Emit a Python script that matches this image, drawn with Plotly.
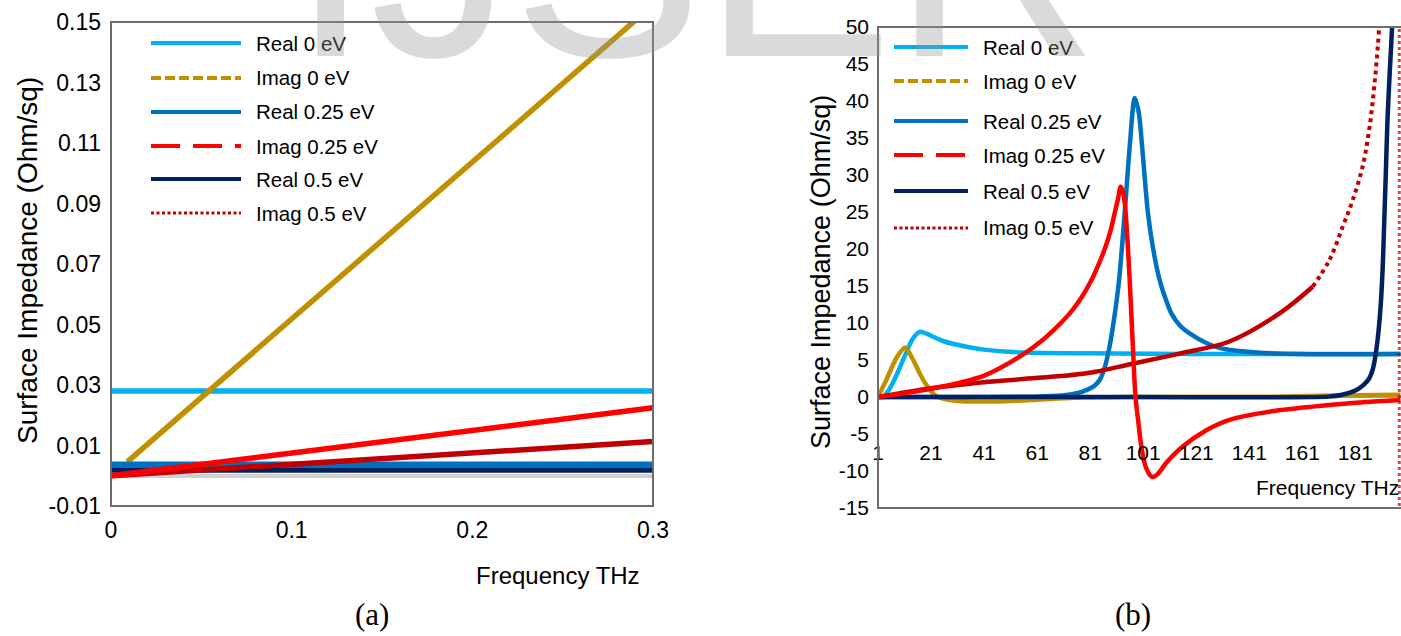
import plotly.graph_objects as go

# ---------------- data ----------------
series_names = ["Real 0 eV", "Imag 0 eV", "Real 0.25 eV", "Imag 0.25 eV", "Real 0.5 eV", "Imag 0.5 eV"]
series_colors = ["#00B0F0", "#BF9000", "#0070C0", "#FF0000", "#002060", "#C00000"]
legend_dash = ["solid", "10px,4px", "solid", "29px,13px", "solid", "3px,2.5px"]
draw_order = [0, 1, 2, 4, 5, 3]

# panel (a): 0 - 0.3 THz
freq_a = [0.0, 0.3]
real0_a = [0.028, 0.028]
imag0_a_x = [0.009, 0.3]
imag0_a = [0.0046, 0.1556]
real025_a = [0.0038, 0.0038]
imag025_a = [0.0, 0.0225]
real05_a = [0.0019, 0.0019]
imag05_a = [0.0, 0.0113]

# panel (b): 1 - 200 THz
real0_b_x = [1, 3, 6, 9, 11.5, 14, 16.6, 19, 22, 26, 33, 41, 56, 80, 120, 198]
real0_b = [0, 0, 1.5, 3.8, 5.9, 7.8, 8.8, 8.6, 8.1, 7.5, 6.9, 6.4, 6.0, 5.9, 5.8, 5.8]

imag0_b_x = [1, 4, 8, 11.2, 14, 17, 19.3, 23, 30, 45, 60, 75, 100, 150, 180, 198]
imag0_b = [0, 2.2, 5.3, 6.7, 5.2, 3.0, 1.6, 0.1, -0.5, -0.6, -0.4, -0.1, 0, 0.05, 0.25, 0.3]

real025_b_x = [1, 40, 60, 70, 76, 80, 82.5, 84.6, 86.5, 88.3, 90.2, 91.9, 94, 95.9, 97.8, 99.3,
               100.6, 102.8, 105, 107.2, 109.5, 111.6, 115, 118.5, 124.8, 130, 144, 160, 198]
real025_b = [0, 0, 0.05, 0.2, 0.5, 1.0, 1.5, 2.3, 4.0, 6.8, 11, 15.8, 24.8, 33.8, 40.4, 38.5,
             33.8, 24.8, 19.5, 15.8, 13.2, 11.3, 9.6, 8.6, 7.3, 6.6, 6.0, 5.8, 5.8]

imag025_b_x = [1, 21, 41, 55, 63.1, 68, 73.3, 77.5, 81.5, 84.5, 86.8, 88.7, 90.2, 91.5, 92.5,
               93.5, 94.4, 95.9, 97.1, 98.1, 99.2, 100.3, 102, 104.4, 106.5, 109.7, 115.9,
               124.8, 133.5, 150, 164.9, 180, 198]
imag025_b = [0, 1.1, 2.9, 5.6, 7.7, 9.3, 11.3, 13.3, 15.8, 18.2, 20.3, 22.5, 24.8, 26.8, 28.4,
             27.5, 24.8, 15.8, 6.8, 0, -3.5, -6.7, -9.5, -10.8, -10.4, -8.9, -6.7,
             -4.5, -3.1, -1.9, -1.3, -0.8, -0.4]

real05_b_x = [1, 100, 171, 176, 181.2, 184, 186.2, 187.6, 188.7, 189.7, 190.6, 191.3, 191.9,
              192.5, 193.1, 193.9, 194.8, 195.5]
real05_b = [0, 0, 0.05, 0.3, 0.9, 1.6, 2.5, 3.8, 5.9, 8.8, 12.7, 17.5, 23.9, 30.5, 37.4, 43.5,
            49.8, 60]

imag05_b_x = [1, 21, 41, 54.5, 79.6, 97, 115, 133.5, 152.4, 164.9, 171.2, 176.2, 180, 183.7,
              186.2, 188.1, 189.8, 191.5, 193.5, 196, 197.5, 197.6]
imag05_b = [0, 1.2, 2.0, 2.4, 3.2, 4.5, 5.9, 7.5, 11.3, 14.9, 18.5, 23.0, 26.6, 31.1, 36.1,
            41.9, 49.1, 60, 90, 200, 400, -400]
imag05_b_split = 9   # from here on the sampled curve looks dotted
imag05_b_pole = 20   # the jump across the pole near the right edge

xticks_a = [0, 0.1, 0.2, 0.3]
xlabels_a = ["0", "0.1", "0.2", "0.3"]
yticks_a = [-0.01, 0.01, 0.03, 0.05, 0.07, 0.09, 0.11, 0.13, 0.15]
ylabels_a = ["-0.01", "0.01", "0.03", "0.05", "0.07", "0.09", "0.11", "0.13", "0.15"]
xticks_b = [1, 21, 41, 61, 81, 101, 121, 141, 161, 181, 201]
yticks_b = [-15, -10, -5, 0, 5, 10, 15, 20, 25, 30, 35, 40, 45, 50]
ylabels_b = ["-15", "-10", "-5", "0", "5", "10", "15", "20", "25", "30", "35", "40", "45", "50"]

# ---------------- figure ----------------
W, H = 1401, 636
def px(x):
    return x / W
def py(y):
    return 1 - y / H

fig = go.Figure()

data_a = [
    (freq_a, real0_a), (imag0_a_x, imag0_a), (freq_a, real025_a),
    (freq_a, imag025_a), (freq_a, real05_a), (freq_a, imag05_a),
]
for i in draw_order:
    xs, ys = data_a[i]
    fig.add_trace(go.Scatter(x=xs, y=ys, mode="lines", name=series_names[i],
                             line=dict(color=series_colors[i], width=5.5),
                             xaxis="x", yaxis="y", showlegend=False))

data_b = [
    (real0_b_x, real0_b), (imag0_b_x, imag0_b), (real025_b_x, real025_b),
    (imag025_b_x, imag025_b), (real05_b_x, real05_b), (imag05_b_x, imag05_b),
]
for i in draw_order:
    xs, ys = data_b[i]
    if i == 5:
        k, p = imag05_b_split, imag05_b_pole
        fig.add_trace(go.Scatter(x=xs[:k + 1], y=ys[:k + 1], mode="lines", name=series_names[i],
                                 line=dict(color=series_colors[i], width=4.5, shape="spline", smoothing=1),
                                 xaxis="x2", yaxis="y2", showlegend=False))
        fig.add_trace(go.Scatter(x=xs[k:p], y=ys[k:p], mode="lines", name=series_names[i],
                                 line=dict(color=series_colors[i], width=4, dash="dot",
                                           shape="spline", smoothing=1),
                                 xaxis="x2", yaxis="y2", showlegend=False))
        fig.add_trace(go.Scatter(x=xs[p:], y=ys[p:], mode="lines", name=series_names[i],
                                 line=dict(color=series_colors[i], width=3, dash="dot"),
                                 opacity=0.7, xaxis="x2", yaxis="y2", showlegend=False))
    else:
        fig.add_trace(go.Scatter(x=xs, y=ys, mode="lines", name=series_names[i],
                                 line=dict(color=series_colors[i], width=4.5, shape="spline", smoothing=0.8),
                                 xaxis="x2", yaxis="y2", showlegend=False))

sans = "Liberation Sans, Arial, sans-serif"
tickfont_a = dict(family=sans, size=23, color="black")
tickfont_b = dict(family=sans, size=21, color="black")

fig.update_layout(
    width=W, height=H,
    margin=dict(l=0, r=0, t=0, b=0, autoexpand=False),
    paper_bgcolor="white", plot_bgcolor="white",
    showlegend=False,
    xaxis=dict(domain=[px(111), px(653)], range=[0, 0.3], tickvals=xticks_a, ticktext=xlabels_a,
               showgrid=False, zeroline=False, showline=False, ticks="", automargin=False,
               tickfont=tickfont_a, ticklabelstandoff=8, anchor="y"),
    yaxis=dict(domain=[py(506), py(22)], range=[-0.01, 0.15], tickvals=yticks_a, ticktext=ylabels_a,
               showgrid=False, zeroline=True, zerolinecolor="#D0D0D0", automargin=False,
               zerolinewidth=4, showline=False, ticks="", tickfont=tickfont_a,
               ticklabelstandoff=9, anchor="x"),
    xaxis2=dict(domain=[px(878), 1.0], range=[1, 198.2], tickvals=xticks_b,
                showgrid=False, zeroline=False, showline=False, ticks="", automargin=False,
                tickfont=tickfont_b, anchor="free", position=py(436), ticklabelstandoff=2),
    yaxis2=dict(domain=[py(508), py(27)], range=[-15, 50], tickvals=yticks_b, ticktext=ylabels_b,
                showgrid=False, zeroline=True, zerolinecolor="#A0A0A0", zerolinewidth=2,
                automargin=False, showline=False, ticks="", tickfont=tickfont_b,
                ticklabelstandoff=8, anchor="x2"),
)

shapes = []
for xr, yr, xe in (("x domain", "y domain", 1), ("x2 domain", "y2 domain", 1.01)):
    shapes.append(dict(type="rect", xref=xr, yref=yr, x0=0, x1=xe, y0=0, y1=1,
                       line=dict(color="#6E6E6E", width=2), layer="above"))

annotations = []
leg_a_rows = [43, 78, 112, 146, 179, 213]
leg_b_rows = [47, 81, 121, 155, 191, 228]
for rows, x0, x1, xt in ((leg_a_rows, 151, 241, 254), (leg_b_rows, 894, 968, 981)):
    for i, yrow in enumerate(rows):
        shapes.append(dict(type="line", xref="paper", yref="paper",
                           x0=px(x0), x1=px(x1), y0=py(yrow), y1=py(yrow),
                           line=dict(color=series_colors[i], width=4 if i != 5 else 3,
                                     dash=legend_dash[i])))
        annotations.append(dict(xref="paper", yref="paper", x=px(xt), y=py(yrow),
                                xanchor="left", yanchor="middle", showarrow=False,
                                text=series_names[i],
                                font=dict(family=sans, size=20.5, color="black")))

txt = dict(family=sans, color="black")
annotations += [
    dict(xref="paper", yref="paper", x=px(558), y=py(575), text="Frequency THz",
         showarrow=False, xanchor="center", yanchor="middle", font=dict(size=24, **txt)),
    dict(xref="paper", yref="paper", x=px(1327), y=py(487), text="Frequency THz",
         showarrow=False, xanchor="center", yanchor="middle", font=dict(size=21, **txt)),
    dict(xref="paper", yref="paper", x=px(27), y=py(261), text="Surface Impedance (Ohm/sq)",
         showarrow=False, textangle=-90, xanchor="center", yanchor="middle", font=dict(size=28, **txt)),
    dict(xref="paper", yref="paper", x=px(821), y=py(272), text="Surface Impedance (Ohm/sq)",
         showarrow=False, textangle=-90, xanchor="center", yanchor="middle", font=dict(size=27, **txt)),
    dict(xref="paper", yref="paper", x=px(372), y=py(614), text="(a)", showarrow=False,
         xanchor="center", yanchor="middle",
         font=dict(family="Liberation Serif, Times New Roman, serif", size=31, color="black")),
    dict(xref="paper", yref="paper", x=px(1133), y=py(614), text="(b)", showarrow=False,
         xanchor="center", yanchor="middle",
         font=dict(family="Liberation Serif, Times New Roman, serif", size=31, color="black")),
    # watermark
    dict(xref="paper", yref="paper", x=px(695), y=py(118), text="IJSER", showarrow=False,
         xanchor="center", yanchor="bottom",
         font=dict(family=sans, size=285, color="rgba(150,150,150,0.35)")),
]

fig.update_layout(shapes=shapes, annotations=annotations)
fig.write_html("out.html", config={"displayModeBar": False},
               post_script="document.body.style.margin='0px';document.body.style.overflow='hidden';")
